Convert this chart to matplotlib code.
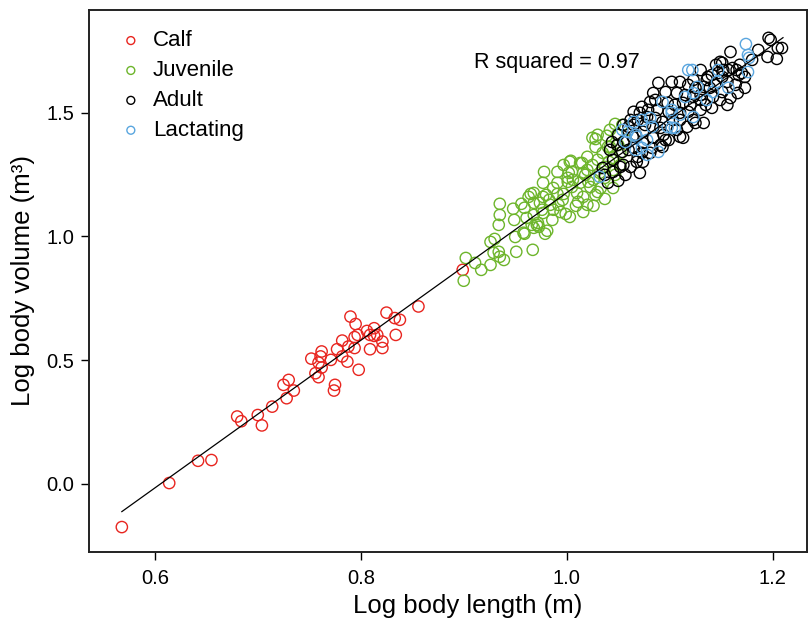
import matplotlib
matplotlib.use("Agg")
from matplotlib import pyplot as plt
import numpy as np

plt.rcParams['font.family'] = ['Liberation Sans', 'DejaVu Sans']

# values (log10 length, log10 volume)
calf_x = [0.568, 0.614, 0.642, 0.655, 0.680, 0.684, 0.700, 0.704, 0.714, 0.725,
          0.730, 0.728, 0.735, 0.752, 0.756, 0.759, 0.759, 0.761, 0.762, 0.762,
          0.771, 0.775, 0.774, 0.777, 0.782, 0.782, 0.787, 0.788, 0.794, 0.790,
          0.795, 0.794, 0.797, 0.798, 0.806, 0.809, 0.809, 0.813, 0.813, 0.816,
          0.821, 0.821, 0.825, 0.833, 0.838, 0.834, 0.856, 0.899]
calf_y = [-0.175, 0.003, 0.093, 0.096, 0.272, 0.253, 0.278, 0.236, 0.312, 0.400,
          0.420, 0.346, 0.377, 0.506, 0.447, 0.431, 0.490, 0.515, 0.535, 0.470,
          0.501, 0.400, 0.377, 0.544, 0.579, 0.515, 0.494, 0.555, 0.549, 0.676,
          0.646, 0.593, 0.602, 0.461, 0.618, 0.602, 0.544, 0.629, 0.598, 0.602,
          0.575, 0.549, 0.692, 0.670, 0.663, 0.602, 0.717, 0.865]

juv_x = [0.900, 0.902, 0.911, 0.917, 0.926, 0.929, 0.926, 0.930, 0.934, 0.935,
         0.939, 0.951, 0.967, 0.950, 0.959, 0.934, 0.935, 0.935, 0.949, 0.948,
         0.956, 0.959, 0.961, 0.963, 0.965, 0.968, 0.971, 0.973, 0.979, 0.968,
         0.974, 0.976, 0.977, 0.980, 0.983, 0.986, 0.987, 0.987, 0.991, 0.992,
         0.996, 0.999, 0.997, 0.978, 0.991, 0.977, 1.001, 1.002, 1.005, 1.004,
         1.006, 1.005, 1.010, 1.009, 1.011, 1.016, 1.015, 1.018, 1.020, 1.021,
         1.023, 1.026, 1.026, 1.028, 1.030, 1.032, 1.033, 1.037, 1.039, 1.040,
         1.041, 1.045, 1.045, 1.035, 1.025, 1.013, 1.047, 1.049, 1.052, 1.042,
         1.020, 0.966, 0.972, 0.981, 0.968, 0.958, 0.997, 1.003, 1.013, 1.025,
         1.030, 1.028, 1.045, 1.042, 1.037, 1.016, 1.047, 1.030, 1.016, 1.001,
         0.991, 0.968, 0.984, 1.020, 0.994, 0.977, 1.003, 1.054, 1.057, 1.050,
         1.052, 1.037, 1.028]
juv_y = [0.821, 0.913, 0.893, 0.865, 0.885, 0.934, 0.978, 0.990, 0.938, 0.918,
         0.905, 0.938, 0.946, 0.998, 1.011, 1.047, 1.087, 1.132, 1.067, 1.112,
         1.132, 1.116, 1.075, 1.160, 1.172, 1.035, 1.047, 1.039, 1.011, 1.087,
         1.136, 1.108, 1.160, 1.168, 1.148, 1.067, 1.108, 1.196, 1.172, 1.128,
         1.148, 1.091, 1.172, 1.261, 1.261, 1.217, 1.237, 1.257, 1.261, 1.306,
         1.229, 1.200, 1.176, 1.124, 1.140, 1.099, 1.297, 1.249, 1.322, 1.221,
         1.200, 1.229, 1.124, 1.394, 1.310, 1.257, 1.196, 1.152, 1.407, 1.362,
         1.302, 1.269, 1.196, 1.338, 1.289, 1.217, 1.455, 1.411, 1.338, 1.431,
         1.269, 1.047, 1.055, 1.023, 1.136, 1.015, 1.289, 1.302, 1.297, 1.399,
         1.411, 1.362, 1.318, 1.362, 1.281, 1.257, 1.249, 1.180, 1.160, 1.221,
         1.217, 1.176, 1.128, 1.128, 1.099, 1.095, 1.079, 1.451, 1.390, 1.370,
         1.289, 1.237, 1.168]

adult_x = [1.196, 1.198, 1.205, 1.209, 1.195, 1.204, 1.159, 1.149, 1.161, 1.170,
           1.173, 1.167, 1.157, 1.152, 1.151, 1.156, 1.166, 1.156, 1.159, 1.144,
           1.130, 1.137, 1.133, 1.135, 1.130, 1.133, 1.123, 1.136, 1.142, 1.151,
           1.089, 1.102, 1.110, 1.118, 1.123, 1.096, 1.084, 1.107, 1.081, 1.073,
           1.065, 1.071, 1.062, 1.055, 1.065, 1.078, 1.088, 1.098, 1.113, 1.123,
           1.118, 1.110, 1.103, 1.093, 1.084, 1.074, 1.064, 1.055, 1.054, 1.065,
           1.074, 1.084, 1.094, 1.107, 1.117, 1.125, 1.081, 1.069, 1.045, 1.052,
           1.062, 1.068, 1.074, 1.071, 1.045, 1.037, 1.147, 1.165, 1.151, 1.042,
           1.049, 1.060, 1.076, 1.086, 1.091, 1.099, 1.105, 1.115, 1.125, 1.130,
           1.139, 1.141, 1.145, 1.164, 1.168, 1.180, 1.186, 1.173, 1.130, 1.120,
           1.110, 1.099, 1.091, 1.086, 1.079, 1.069, 1.060, 1.050, 1.040, 1.050,
           1.057, 1.044, 1.035, 1.096, 1.073, 1.083, 1.093, 1.110, 1.113, 1.067,
           1.055, 1.141, 1.149]
adult_y = [1.803, 1.795, 1.762, 1.762, 1.726, 1.718, 1.746, 1.706, 1.681, 1.661,
           1.645, 1.653, 1.673, 1.673, 1.645, 1.625, 1.580, 1.532, 1.560, 1.613,
           1.673, 1.645, 1.605, 1.532, 1.512, 1.459, 1.471, 1.633, 1.564, 1.584,
           1.621, 1.625, 1.625, 1.613, 1.633, 1.584, 1.580, 1.580, 1.544, 1.524,
           1.504, 1.500, 1.471, 1.451, 1.451, 1.483, 1.512, 1.540, 1.540, 1.564,
           1.504, 1.500, 1.471, 1.463, 1.443, 1.423, 1.403, 1.382, 1.342, 1.358,
           1.378, 1.399, 1.411, 1.431, 1.443, 1.459, 1.338, 1.322, 1.310, 1.281,
           1.281, 1.302, 1.302, 1.257, 1.261, 1.249, 1.661, 1.673, 1.702, 1.350,
           1.370, 1.350, 1.451, 1.479, 1.439, 1.504, 1.532, 1.572, 1.601, 1.572,
           1.601, 1.653, 1.694, 1.613, 1.694, 1.714, 1.754, 1.601, 1.552, 1.532,
           1.471, 1.390, 1.370, 1.552, 1.512, 1.471, 1.443, 1.411, 1.217, 1.225,
           1.249, 1.382, 1.277, 1.390, 1.338, 1.358, 1.362, 1.403, 1.399, 1.411,
           1.289, 1.520, 1.552]

lact_x = [1.174, 1.176, 1.177, 1.176, 1.157, 1.147, 1.146, 1.127, 1.122, 1.136,
          1.123, 1.142, 1.118, 1.123, 1.115, 1.093, 1.102, 1.102, 1.110, 1.065,
          1.073, 1.081, 1.083, 1.098, 1.102, 1.054, 1.059, 1.068, 1.078, 1.073,
          1.078, 1.089, 1.067, 1.057, 1.105, 1.067, 1.032]
lact_y = [1.778, 1.734, 1.722, 1.665, 1.601, 1.673, 1.625, 1.605, 1.673, 1.552,
          1.483, 1.584, 1.673, 1.580, 1.564, 1.544, 1.512, 1.500, 1.492, 1.463,
          1.471, 1.479, 1.443, 1.443, 1.439, 1.431, 1.423, 1.403, 1.390, 1.358,
          1.330, 1.342, 1.350, 1.382, 1.439, 1.411, 1.241]

# fitted line
fit_slope = 2.985
fit_intercept = -1.808
fit_range = [0.568, 1.21]
r_squared = 0.97

groups = [("Calf", calf_x, calf_y, "#e8251f"),
          ("Juvenile", juv_x, juv_y, "#6db52b"),
          ("Adult", adult_x, adult_y, "black"),
          ("Lactating", lact_x, lact_y, "#5aa6df")]

fig = plt.figure(figsize=(8.08, 6.2), dpi=100)
ax = fig.add_axes([0.11, 0.11, 0.889, 0.874])

for name, xs, ys, clr in groups:
    ax.scatter(xs, ys, s=66, facecolors='none', edgecolors=clr, linewidths=1.0, label=name)

fx = np.array(fit_range)
ax.plot(fx, fit_slope*fx + fit_intercept, color='black', linewidth=0.9)

ax.text(0.910, 1.702, "R squared = %.2f" % r_squared, fontsize=15.5, ha='left', va='center')

ax.set_xlim(0.536, 1.2335)
ax.set_ylim(-0.275, 1.916)
ax.set_xticks([0.6, 0.8, 1.0, 1.2])
ax.set_yticks([0.0, 0.5, 1.0, 1.5])
ax.xaxis.set_major_formatter(matplotlib.ticker.FormatStrFormatter('%.1f'))
ax.yaxis.set_major_formatter(matplotlib.ticker.FormatStrFormatter('%.1f'))
ax.tick_params(direction='out', length=5.5, width=1, labelsize=14.5)
ax.tick_params(axis='x', pad=7)
ax.tick_params(axis='y', pad=5)
ax.tick_params(top=False, right=False)
for sp in ax.spines.values():
    sp.set_linewidth(1.4)
    sp.set_color('#222222')

ax.set_xlabel("Log body length (m)", fontsize=18.5)
ax.xaxis.set_label_coords(0.527, -0.1, transform=ax.transAxes)
ax.xaxis.label.set_va('center')
ax.set_ylabel("Log body volume (m\u00b3)", fontsize=18.5, labelpad=8.5)

leg = ax.legend(loc='upper left', bbox_to_anchor=(0.012, 0.995), frameon=False,
                fontsize=16, markerscale=0.7, handlelength=1.4, handletextpad=0.3,
                labelspacing=0.40, borderpad=0.3)

fig.savefig("out.png", dpi=100)
